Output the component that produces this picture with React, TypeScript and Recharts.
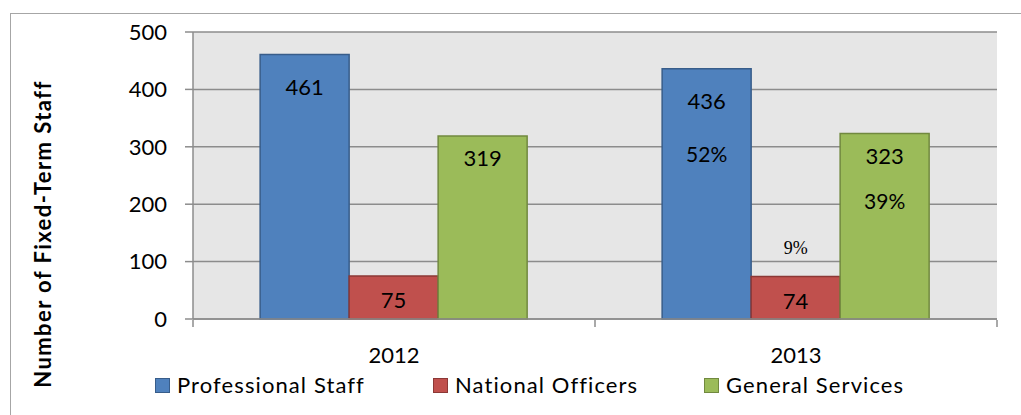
import { BarChart, Bar, XAxis, YAxis, CartesianGrid, Legend, LabelList } from 'recharts'

const years = ['2012', '2013']
const professional = [461, 436]
const national = [75, 74]
const general = [319, 323]
const professionalPct = ['', '52%']
const nationalPct = ['', '9%']
const generalPct = ['', '39%']
const yTicks = [0, 100, 200, 300, 400, 500]
const edgeTicks = [0, 1, 2]

const series = [
  { key: 'professional', pctKey: 'professionalPct', name: 'Professional Staff', fill: '#4f81bd', stroke: '#385d8a', labelDy: 32, pctDy: 85, pctFont: 'Lato', pctSize: 21 },
  { key: 'national', pctKey: 'nationalPct', name: 'National Officers', fill: '#c0504d', stroke: '#8c3836', labelDy: 24, pctDy: -29, pctFont: '"Liberation Serif", serif', pctSize: 18 },
  { key: 'general', pctKey: 'generalPct', name: 'General Services', fill: '#9bbb59', stroke: '#71893f', labelDy: 22, pctDy: 67, pctFont: 'Lato', pctSize: 21 },
]

const data = years.map((year, i) => ({
  year,
  pos: i + 0.5,
  professional: professional[i],
  national: national[i],
  general: general[i],
  professionalPct: professionalPct[i],
  nationalPct: nationalPct[i],
  generalPct: generalPct[i],
}))

const valueLabel = (dy: number) => (props: any) => {
  const { x, y, width, value } = props
  return (
    <text x={x + width / 2} y={y + dy} textAnchor="middle" dominantBaseline="central" fontSize={22} fill="#000">
      {value}
    </text>
  )
}

const pctLabel = (dy: number, font: string, size: number) => (props: any) => {
  const { x, y, width, value } = props
  if (!value) return null
  return (
    <text x={x + width / 2} y={y + dy} textAnchor="middle" dominantBaseline="central" fontSize={size} fontFamily={font} fill="#000">
      {value}
    </text>
  )
}

const itemStarts = [155, 433, 704]

function LegendContent() {
  return (
    <div style={{ position: 'relative', height: 50 }}>
      {series.map((s, i) => (
        <div key={s.key} style={{ position: 'absolute', left: itemStarts[i], top: 8, display: 'flex', alignItems: 'center', whiteSpace: 'nowrap' }}>
          <span style={{ width: 13, height: 13, background: s.fill, border: `1px solid ${s.stroke}`, display: 'inline-block' }} />
          <span style={{ marginLeft: 7, fontSize: 22, letterSpacing: 1.1, color: '#000', lineHeight: '24px' }}>{s.name}</span>
        </div>
      ))}
    </div>
  )
}

function YTitle() {
  return (
    <text x={42} y={234} transform="rotate(-90 42 234)" textAnchor="middle" dominantBaseline="central" fontSize={22} letterSpacing={1.4} fontWeight="bold" fill="#000">
      Number of Fixed-Term Staff
    </text>
  )
}

const NoTick = () => <g />

export default function App() {
  return (
    <div style={{ position: 'absolute', left: 0, top: 0, width: 1021, height: 415, background: '#fff', fontFamily: 'Lato', overflow: 'hidden' }}>
      <div style={{ position: 'absolute', left: 10, top: 13, width: 1011, height: 402, boxSizing: 'border-box', borderTop: '1.5px solid #a6a6a6', borderLeft: '1.5px solid #a6a6a6' }} />
      <BarChart
        width={1021}
        height={415}
        data={data}
        margin={{ top: 32, right: 24, left: 0, bottom: 0 }}
        barCategoryGap="16.7%"
        barGap={0}
      >
        <CartesianGrid vertical={false} stroke="#8c8c8c" strokeWidth={1.5} fill="#e6e6e6" />
        <XAxis
          xAxisId="edges"
          type="number"
          dataKey="pos"
          domain={[0, 2]}
          ticks={edgeTicks}
          tick={NoTick}
          tickSize={7}
          tickLine={{ stroke: '#8c8c8c', strokeWidth: 1.5 }}
          axisLine={false}
          height={45}
        />
        <XAxis dataKey="year" tickLine={false} tickSize={0} tickMargin={28} height={1} axisLine={{ stroke: '#8c8c8c', strokeWidth: 1.5 }} tick={{ fontSize: 22, fill: '#000' }} />
        <YAxis
          domain={[0, 500]}
          ticks={yTicks}
          width={193}
          tickSize={8}
          tickMargin={18}
          axisLine={{ stroke: '#8c8c8c', strokeWidth: 1.5 }}
          tickLine={{ stroke: '#8c8c8c', strokeWidth: 1.5 }}
          tick={{ fontSize: 22, fill: '#000' }}
          label={<YTitle />}
        />
        <Legend verticalAlign="bottom" height={50} content={<LegendContent />} />
        {series.map((s) => (
          <Bar key={s.key} dataKey={s.key} name={s.name} fill={s.fill} stroke={s.stroke} strokeWidth={1.5} isAnimationActive={false}>
            <LabelList dataKey={s.key} content={valueLabel(s.labelDy)} />
            <LabelList dataKey={s.pctKey} content={pctLabel(s.pctDy, s.pctFont, s.pctSize)} />
          </Bar>
        ))}
      </BarChart>
    </div>
  )
}
